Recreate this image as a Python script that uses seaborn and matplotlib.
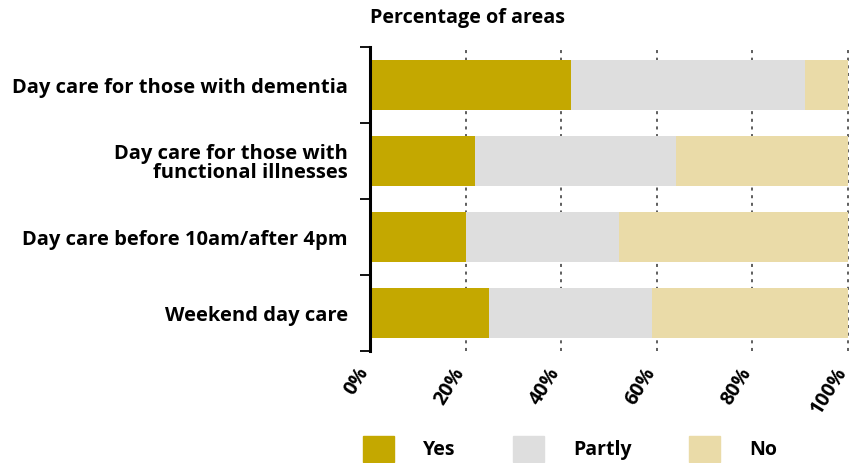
import numpy as np
import pandas as pd
import matplotlib
matplotlib.use("Agg")
import matplotlib.pyplot as plt
import matplotlib.patches as mpatches
import matplotlib.transforms as mtransforms
import seaborn as sns

# ---------------------------------------------------------
# Données
# ---------------------------------------------------------
categories = [
    "Day care for those with dementia",
    "Day care for those with\nfunctional illnesses",
    "Day care before 10am/after 4pm",
    "Weekend day care",
]
yes = [42, 22, 20, 25]
partly = [49, 42, 32, 34]
no = [9, 36, 48, 41]

series_names = ["Yes", "Partly", "No"]
colors = ["#C4A800", "#DEDEDE", "#EADBA8"]
x_ticks = [0, 20, 40, 60, 80, 100]
x_ticklabels = ["0%", "20%", "40%", "60%", "80%", "100%"]

df = pd.DataFrame({"cat": categories, "Yes": yes, "Partly": partly, "No": no})
# cumuls pour empiler les barres (on dessine du fond vers l'avant)
df["c_yes"] = df["Yes"]
df["c_partly"] = df["Yes"] + df["Partly"]
df["c_no"] = df["Yes"] + df["Partly"] + df["No"]

sns.set_theme(style="white")
plt.rcParams["font.family"] = ["Open Sans", "DejaVu Sans"]
plt.rcParams["font.weight"] = "bold"
plt.rcParams["text.color"] = "black"
plt.rcParams["xtick.color"] = "black"
plt.rcParams["ytick.color"] = "black"

fig = plt.figure(figsize=(8.53, 4.63), dpi=100)
ax = fig.add_axes([370 / 853, 1 - 351 / 463, 478 / 853, 304 / 463])

for col, color in zip(["c_no", "c_partly", "c_yes"], colors[::-1]):
    sns.barplot(data=df, x=col, y="cat", color=color, width=0.67,
                orient="h", ax=ax, zorder=2, saturation=1, linewidth=0)

# grille verticale pointillée
for v in x_ticks[1:]:
    ax.axvline(v, color="#333333", linewidth=1.1, linestyle=(0, (2.0, 3.0)),
               zorder=1, clip_on=False)

ax.set_xlim(0, 100)
ax.set_ylim(3.5, -0.5)
ax.set_xlabel("")
ax.set_ylabel("")

ax.set_xticks(x_ticks)
ax.set_xticklabels(x_ticklabels, rotation=58, ha="right", va="bottom",
                   rotation_mode="anchor", fontsize=14, fontweight="bold")
ax.tick_params(axis="x", length=0, pad=17)
# léger décalage à droite des étiquettes inclinées
offset = mtransforms.ScaledTranslation(3 / 100, 0, fig.dpi_scale_trans)
for lab in ax.get_xticklabels():
    lab.set_transform(lab.get_transform() + offset)

ax.set_yticks(range(len(categories)))
ax.set_yticklabels(categories, fontsize=14.5, fontweight="bold", linespacing=0.95)
ax.tick_params(axis="y", which="major", length=0, pad=16)
ax.set_yticks(np.arange(-0.5, 4, 1), minor=True)
ax.tick_params(axis="y", which="minor", length=7, width=1.3, color="black", left=True)

for s in ["top", "right", "bottom"]:
    ax.spines[s].set_visible(False)
ax.spines["left"].set_linewidth(2.2)
ax.spines["left"].set_color("black")
ax.spines["left"].set_zorder(5)

fig.text(370 / 853, 1 - 18 / 463, "Percentage of areas", fontsize=14.2,
         fontweight="bold", ha="left", va="center")

handles = [mpatches.Patch(color=c, label=n) for c, n in zip(colors, series_names)]
fig.legend(handles=handles, loc="center", bbox_to_anchor=(570 / 853, 1 - 449 / 463),
           ncol=3, frameon=False, prop={"size": 14, "weight": "bold"},
           handlelength=1.6, handleheight=1.7, handletextpad=1.5,
           columnspacing=2.95, borderpad=0)

fig.savefig("out.png", dpi=100)
